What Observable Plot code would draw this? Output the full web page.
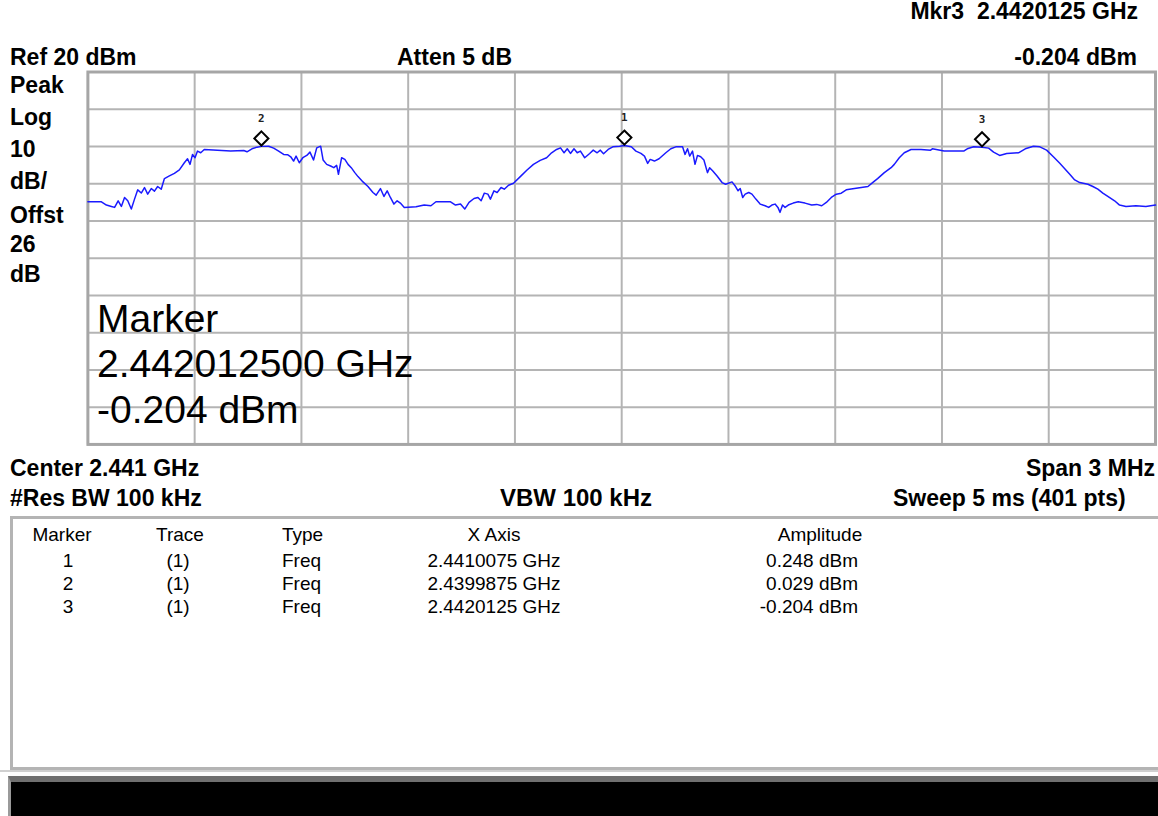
<!DOCTYPE html>
<html>
<head>
<meta charset="utf-8">
<script src="https://cdn.jsdelivr.net/npm/d3@7"></script>
<script src="https://cdn.jsdelivr.net/npm/@observablehq/plot@0.6"></script>
<style>
  html, body { margin: 0; padding: 0; background: #fff; }
  body { width: 1158px; height: 816px; overflow: hidden; position: relative; font-family: "Liberation Sans", Arial, sans-serif; }
  #chart { position: absolute; left: 0; top: 0; }
  .lbl { position: absolute; white-space: pre; color: #000; line-height: 0.8; }
  #tablebox { position: absolute; left: 10px; top: 516px; width: 1160px; height: 248px; border: 3px solid #b4b4b4; box-sizing: content-box; }
  #blackbar { position: absolute; left: 8px; top: 776px; width: 1160px; height: 40px; background: #000; border-top: 6px solid #707070; border-left: 3px solid #9a9a9a; }
  #sep { position: absolute; left: 0; top: 770px; width: 1158px; height: 2px; background: #d0d0d0; }
</style>
</head>
<body>
<div id="tablebox"></div>
<div id="sep"></div>
<div id="blackbar"></div>
<div id="chart"></div>
<script>
// ---- Sweep settings (spectrum analyzer) ----
const startMHz = 2439.5;
const stopMHz = 2442.5;
const refLevel = 20;      // dBm, top of graticule
const bottomLevel = -80;  // dBm, 10 dB/div x 10 div

// Graticule lines (10 divisions each way)
const gridFreqs = [2439.5, 2439.8, 2440.1, 2440.4, 2440.7, 2441.0, 2441.3, 2441.6, 2441.9, 2442.2, 2442.5];
const gridLevels = [20, 10, 0, -10, -20, -30, -40, -50, -60, -70, -80];

// ---- Trace 1 ----
const traceFreqMHz = [
  2439.500, 2439.538, 2439.552, 2439.566, 2439.575, 2439.585, 2439.594, 2439.603, 2439.612, 2439.622,
  2439.631, 2439.640, 2439.650, 2439.659, 2439.668, 2439.678, 2439.687, 2439.696, 2439.706, 2439.715,
  2439.729, 2439.743, 2439.757, 2439.771, 2439.780, 2439.787, 2439.794, 2439.801, 2439.808, 2439.817,
  2439.827, 2439.864, 2439.901, 2439.938, 2439.947, 2439.961, 2439.975, 2439.9875, 2440.008, 2440.022,
  2440.036, 2440.050, 2440.061, 2440.070, 2440.078, 2440.085, 2440.094, 2440.104, 2440.115, 2440.124,
  2440.134, 2440.143, 2440.154, 2440.161, 2440.171, 2440.182, 2440.191, 2440.199, 2440.204, 2440.213,
  2440.222, 2440.231, 2440.240, 2440.250, 2440.259, 2440.273, 2440.287, 2440.301, 2440.310, 2440.322,
  2440.332, 2440.341, 2440.350, 2440.360, 2440.369, 2440.378, 2440.389, 2440.422, 2440.445, 2440.464,
  2440.478, 2440.519, 2440.533, 2440.547, 2440.559, 2440.571, 2440.585, 2440.596, 2440.605, 2440.614,
  2440.624, 2440.631, 2440.641, 2440.650, 2440.661, 2440.670, 2440.682, 2440.696, 2440.715, 2440.734,
  2440.752, 2440.771, 2440.789, 2440.803, 2440.817, 2440.828, 2440.838, 2440.847, 2440.856, 2440.866,
  2440.875, 2440.884, 2440.896, 2440.910, 2440.920, 2440.931, 2440.940, 2440.949, 2440.962, 2440.975,
  2440.994, 2441.0075, 2441.027, 2441.040, 2441.054, 2441.064, 2441.073, 2441.080, 2441.092, 2441.105,
  2441.124, 2441.138, 2441.152, 2441.171, 2441.178, 2441.185, 2441.191, 2441.199, 2441.206, 2441.213,
  2441.222, 2441.231, 2441.241, 2441.247, 2441.256, 2441.268, 2441.282, 2441.292, 2441.310, 2441.320,
  2441.327, 2441.333, 2441.340, 2441.347, 2441.357, 2441.366, 2441.377, 2441.389, 2441.403, 2441.413,
  2441.422, 2441.431, 2441.439, 2441.445, 2441.452, 2441.459, 2441.468, 2441.482, 2441.496, 2441.515,
  2441.534, 2441.548, 2441.562, 2441.575, 2441.589, 2441.603, 2441.617, 2441.631, 2441.654, 2441.673,
  2441.692, 2441.705, 2441.719, 2441.738, 2441.757, 2441.766, 2441.780, 2441.794, 2441.813, 2441.841,
  2441.868, 2441.873, 2441.906, 2441.961, 2441.971, 2441.989, 2442.0125, 2442.031, 2442.045, 2442.062,
  2442.082, 2442.115, 2442.134, 2442.157, 2442.175, 2442.194, 2442.213, 2442.231, 2442.245, 2442.259,
  2442.273, 2442.287, 2442.310, 2442.324, 2442.338, 2442.352, 2442.366, 2442.385, 2442.399, 2442.417,
  2442.445, 2442.473, 2442.500
];
const traceLevelDbm = [
  -14.85, -14.85, -15.73, -16.10, -16.36, -14.58, -16.10, -13.69, -14.58, -16.80,
  -14.13, -11.64, -12.50, -11.02, -12.80, -11.29, -12.00, -10.75, -11.47, -8.62,
  -7.91, -7.20, -6.30, -4.36, -3.29, -4.80, -2.13, -3.02, -1.24, -1.69,
  -0.80, -0.98, -1.24, -1.07, -1.42, -0.62, -0.18, 0.029, 0.08, -0.44,
  -1.24, -2.13, -2.20, -2.76, -3.91, -2.58, -4.36, -3.02, -2.40, -1.51,
  -3.64, -0.36, 0.08, -3.64, -4.80, -5.24, -5.69, -5.07, -7.47, -3.02,
  -3.47, -4.80, -5.69, -7.02, -8.09, -9.51, -10.75, -12.36, -13.07, -11.29,
  -13.42, -11.91, -13.69, -15.47, -14.58, -15.20, -16.36, -16.18, -15.73, -15.91,
  -14.85, -14.85, -15.73, -15.47, -16.80, -15.02, -13.96, -13.69, -14.58, -12.53,
  -12.80, -14.13, -11.91, -12.36, -11.02, -11.47, -10.40, -9.87, -8.09, -6.31,
  -4.80, -3.73, -3.02, -1.69, -0.80, -0.36, -1.69, -0.62, -1.87, -0.62,
  -1.69, -1.24, -3.02, -1.87, -0.98, -1.69, -0.98, -1.96, -0.80, -0.09,
  0.08, 0.248, -0.09, -1.24, -1.87, -2.58, -4.53, -3.47, -3.91, -3.29,
  -1.69, -0.62, -0.09, -0.09, -2.13, -0.62, -2.58, -1.24, -4.80, -2.40,
  -2.76, -3.64, -7.02, -5.69, -6.58, -7.91, -9.69, -10.13, -9.51, -10.75,
  -11.91, -11.29, -13.69, -12.80, -12.36, -12.80, -14.13, -15.47, -15.91, -16.36,
  -15.73, -15.47, -16.36, -17.69, -15.73, -16.36, -15.73, -15.20, -14.85, -15.20,
  -15.73, -15.55, -15.91, -15.02, -13.69, -12.80, -12.53, -11.64, -11.29, -11.02,
  -10.75, -9.69, -8.62, -7.02, -5.69, -4.80, -3.02, -1.69, -0.80, -0.80,
  -0.98, -0.62, -1.24, -1.24, -0.62, -0.09, -0.204, -0.44, -1.51, -2.40,
  -1.87, -1.69, -0.62, 0.08, -0.09, -0.98, -2.76, -4.53, -5.96, -7.47,
  -8.98, -9.69, -10.13, -10.75, -11.47, -12.53, -13.42, -14.58, -15.73, -16.10,
  -15.91, -16.10, -15.73
];

// ---- Markers ----
const markerIds = ["1", "2", "3"];
const markerTrace = ["(1)", "(1)", "(1)"];
const markerType = ["Freq", "Freq", "Freq"];
const markerFreqGHz = ["2.4410075", "2.4399875", "2.4420125"];
const markerAmpDbm = [0.248, 0.029, -0.204];

// ---- Annotation texts ----
const activeMarker = "Mkr3  2.4420125 GHz";
const activeAmp = "-0.204 dBm";
const refText = "Ref 20 dBm";
const attenText = "Atten 5 dB";
const leftLabels = ["Peak", "Log", "10", "dB/", "Offst", "26", "dB"];
const leftBaselines = [93, 125, 157, 189, 223, 252, 282];
const centerText = "Center 2.441 GHz";
const spanText = "Span 3 MHz";
const rbwText = "#Res BW 100 kHz";
const vbwText = "VBW 100 kHz";
const sweepText = "Sweep 5 ms (401 pts)";
const bigMarker = ["Marker", "2.442012500 GHz", "-0.204 dBm"];
const tableHeaders = ["Marker", "Trace", "Type", "X Axis", "Amplitude"];

const trace = traceFreqMHz.map((f, i) => ({f, a: traceLevelDbm[i]}));
const markers = markerIds.map((id, i) => ({id, f: +markerFreqGHz[i] * 1000, a: markerAmpDbm[i]}));

const chart = Plot.plot({
  width: 1166,
  height: 456,
  marginLeft: 88,
  marginRight: 3,
  marginTop: 72,
  marginBottom: 9,
  x: {domain: [startMHz, stopMHz], axis: null},
  y: {domain: [bottomLevel, refLevel], axis: null},
  marks: [
    Plot.gridX(gridFreqs, {stroke: "#b4b4b4", strokeOpacity: 1, strokeWidth: 2}),
    Plot.gridY(gridLevels, {stroke: "#b4b4b4", strokeOpacity: 1, strokeWidth: 2}),
    Plot.frame({stroke: "#a6a6a6", strokeWidth: 3}),
    Plot.line(trace, {x: "f", y: "a", stroke: "#1a1aff", strokeWidth: 1.5}),
    Plot.dot(markers, {x: "f", y: "a", symbol: "diamond2", r: 6.4, dy: -8, stroke: "#000", strokeWidth: 2, fill: "#fff"}),
    Plot.text(markers, {x: "f", y: "a", text: "id", dy: -28, fontSize: 11, fontWeight: "bold", fill: "#222", fontFamily: "DejaVu Sans Mono"})
  ]
});
chart.style.overflow = "visible";
document.getElementById("chart").append(chart);

// baseline-positioned label; with line-height 0.8 the baseline sits 0.7465em below the box top
function label(text, x, baseline, opts = {}) {
  const size = opts.size || 23;
  const weight = opts.weight || "bold";
  const anchor = opts.anchor || "start";
  const d = document.createElement("div");
  d.className = "lbl";
  d.textContent = text;
  d.style.fontSize = size + "px";
  d.style.fontWeight = weight;
  d.style.left = x + "px";
  d.style.top = (baseline - 0.7465 * size) + "px";
  if (anchor === "end") d.style.transform = "translateX(-100%)";
  if (anchor === "middle") d.style.transform = "translateX(-50%)";
  document.body.append(d);
}

// Header
label(activeMarker, 1138, 19, {anchor: "end"});
label(refText, 10, 65);
label(attenText, 397, 65);
label(activeAmp, 1137, 65, {anchor: "end"});
leftLabels.forEach((t, i) => label(t, 10, leftBaselines[i]));

// Big marker readout inside graticule
bigMarker.forEach((t, i) => label(t, 97, 332 + i * 45.5, {size: 39, weight: "normal"}));

// Footer
label(centerText, 10, 476);
label(spanText, 1155, 476, {anchor: "end"});
label(rbwText, 10, 506);
label(vbwText, 500, 506, {size: 24});
label(sweepText, 893, 506);

// Marker table
const colX = [68, 178, 282, 494, 858];
const colAnchor = ["middle", "middle", "start", "middle", "end"];
const hdrX = [62, 180, 282, 494, 820];
const hdrAnchor = ["middle", "middle", "start", "middle", "middle"];
tableHeaders.forEach((t, i) => label(t, hdrX[i], 541, {size: 19, weight: "normal", anchor: hdrAnchor[i]}));
markerIds.forEach((id, r) => {
  const row = [id, markerTrace[r], markerType[r], markerFreqGHz[r] + " GHz", markerAmpDbm[r].toFixed(3) + " dBm"];
  row.forEach((t, c) => label(t, colX[c], 567 + r * 23, {size: 19, weight: "normal", anchor: colAnchor[c]}));
});
</script>
</body>
</html>
